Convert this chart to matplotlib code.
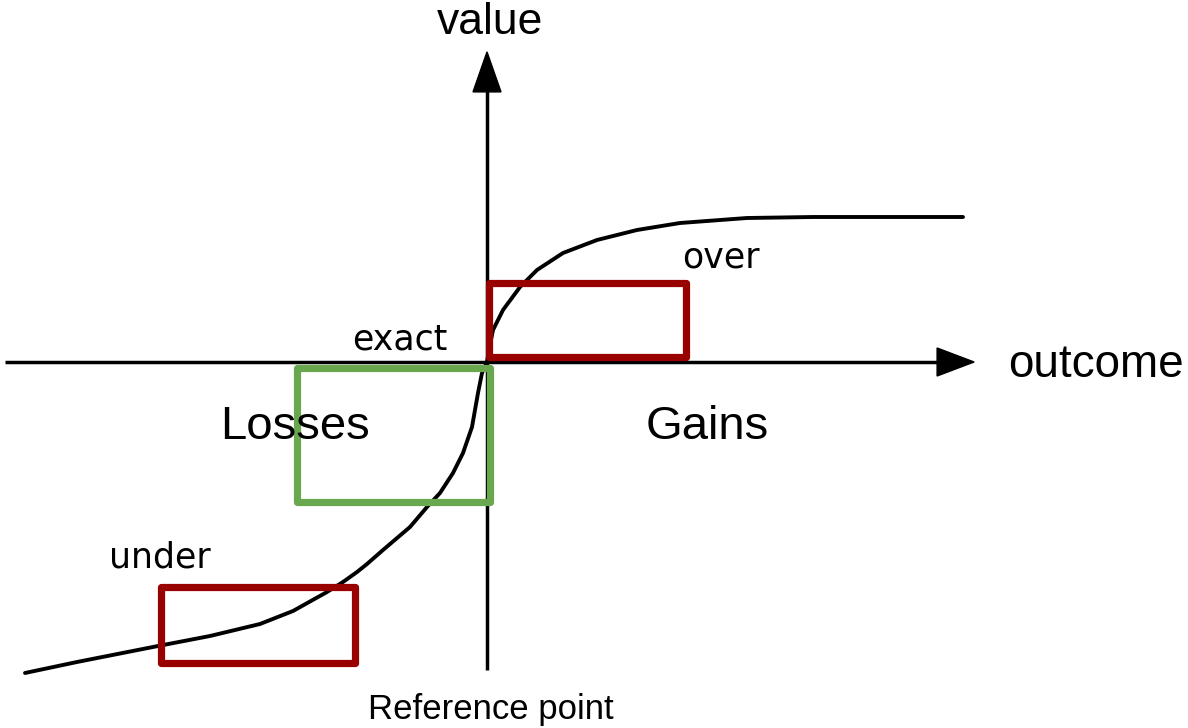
import matplotlib.pyplot as plt
from matplotlib.patches import Rectangle

# value function (outcome, value), origin = reference point
loss_x = [-462, -410, -329, -277, -227, -194, -160, -144, -130, -120, -104, -77,
          -60, -47, -34, -24, -15, -9, -5, 0]
loss_y = [-311, -300, -284, -274, -262, -249, -230, -220, -210, -202, -188, -165,
          -145, -131, -111, -91, -65, -31, -11, 0]
gain_x = [0, 2, 6, 16, 33, 50, 76, 110, 150, 193, 260, 326, 476]
gain_y = [0, 12, 32, 52, 75, 92, 109, 122, 132, 139, 144, 145, 145]

# highlighted regions: (label, x0, y0, width, height, colour)
boxes = [
    ("over", 2, 5, 197, 74, "#990000"),
    ("exact", -190, -140, 193, 134, "#6aa84f"),
    ("under", -326, -301, 194, 76, "#990000"),
]
box_labels = {"over": (234, 104), "exact": (-87, 22), "under": (-327, -196)}

fig = plt.figure(figsize=(11.88, 7.28), dpi=100)
ax = fig.add_axes([0, 0, 1, 1])
ax.set_xlim(-487, 701)
ax.set_ylim(-366, 362)
ax.axis("off")

# axes with arrow heads
ax.plot([-482, 455], [0, 0], color="black", lw=2.5, solid_capstyle="butt")
ax.plot([0, 0], [-308, 275], color="black", lw=2.5, solid_capstyle="butt")
ax.arrow(450, 0, 0.1, 0, head_width=28, head_length=37, fc="black", ec="black",
         length_includes_head=False, overhang=0)
ax.arrow(0, 270, 0, 0.1, head_width=28, head_length=40, fc="black", ec="black",
         length_includes_head=False, overhang=0)

ax.plot(loss_x, loss_y, color="black", lw=2.8, solid_joinstyle="round",
        solid_capstyle="round")
ax.plot(gain_x, gain_y, color="black", lw=2.8, solid_joinstyle="round",
        solid_capstyle="round")

for name, x0, y0, w, h, col in boxes:
    ax.add_patch(Rectangle((x0, y0), w, h, fill=False, ec=col, lw=5.2,
                           joinstyle="round", zorder=3))
    lx, ly = box_labels[name]
    ax.text(lx, ly, name, ha="center", va="center", fontsize=25,
            family="DejaVu Sans", color="black")

sans = "Liberation Sans"
ax.text(3, 340, "value", ha="center", va="center", fontsize=32, family=sans)
ax.text(521, -3, "outcome", ha="left", va="center", fontsize=33, family=sans)
ax.text(-192, -65, "Losses", ha="center", va="center", fontsize=34, family=sans)
ax.text(220, -65, "Gains", ha="center", va="center", fontsize=34, family=sans)
ax.text(4, -348, "Reference point", ha="center", va="center", fontsize=25, family=sans)

fig.savefig("out.png", dpi=100)
